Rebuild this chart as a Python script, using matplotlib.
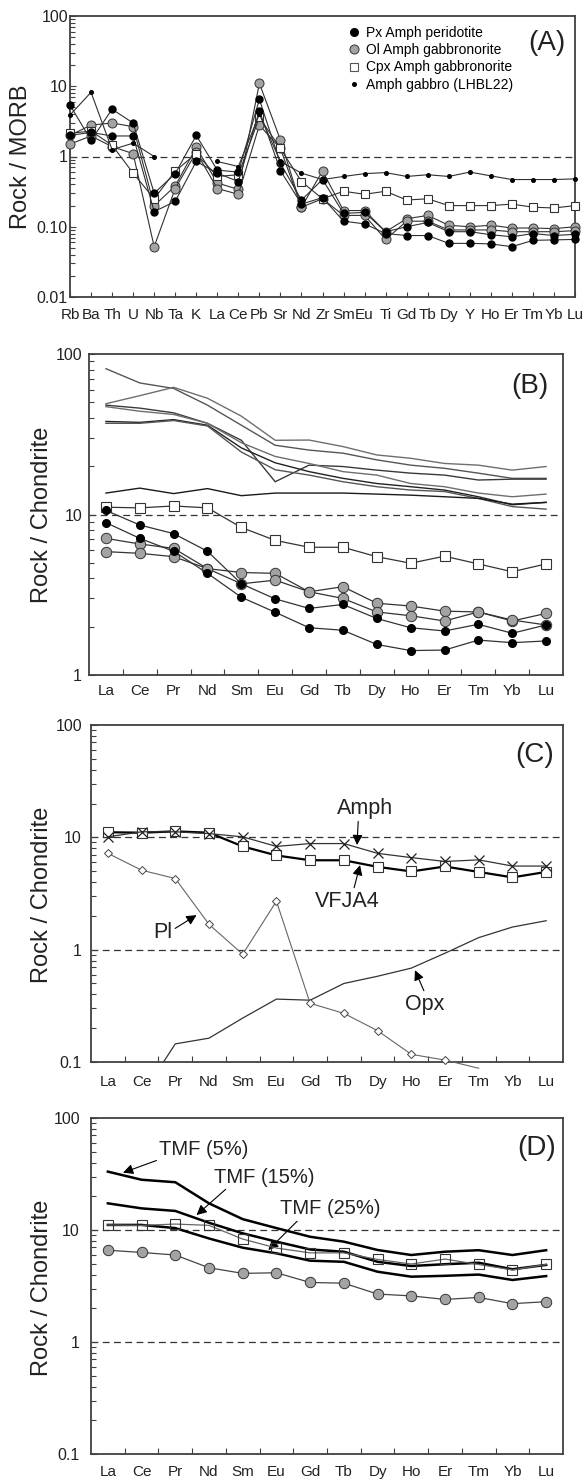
import numpy as np
import matplotlib.pyplot as plt
from matplotlib.lines import Line2D
from matplotlib.ticker import FixedLocator, FixedFormatter, LogLocator, NullFormatter

plt.rcParams['font.family'] = ['Liberation Sans', 'DejaVu Sans']

nan = np.nan

# (A) MORB-normalised multi-element patterns
spider_elems = ['Rb', 'Ba', 'Th', 'U', 'Nb', 'Ta', 'K', 'La', 'Ce', 'Pb', 'Sr', 'Nd', 'Zr',
                'Sm', 'Eu', 'Ti', 'Gd', 'Tb', 'Dy', 'Y', 'Ho', 'Er', 'Tm', 'Yb', 'Lu']
px_a1 = [5.4, 1.7, 4.7, 3.0, 0.30, 0.57, 2.0, 0.64, 0.60, 6.5, 0.80, 0.24, 0.47,
         0.155, 0.16, 0.085, 0.10, 0.115, 0.085, 0.085, 0.077, 0.072, 0.080, 0.075, 0.078]
px_a2 = [2.0, 2.2, 1.96, 1.96, 0.164, 0.23, 0.85, 0.58, 0.44, 4.5, 0.63, 0.21, 0.26,
         0.12, 0.11, 0.080, 0.075, 0.075, 0.058, 0.058, 0.057, 0.052, 0.064, 0.065, 0.066]
ol_a1 = [2.0, 2.8, 3.0, 2.66, 0.20, 0.38, 1.35, 0.42, 0.34, 11.0, 1.72, 0.19, 0.62,
         0.17, 0.17, 0.085, 0.13, 0.145, 0.105, 0.10, 0.105, 0.096, 0.096, 0.094, 0.10]
ol_a2 = [1.5, 1.96, 1.38, 1.1, 0.052, 0.35, 1.15, 0.35, 0.29, 2.8, 1.3, 0.19, 0.25,
         0.145, 0.145, 0.066, 0.12, 0.12, 0.09, 0.09, 0.09, 0.085, 0.085, 0.085, 0.088]
cpx_a = [2.14, 2.3, 1.45, 0.58, 0.25, 0.62, 1.1, 0.52, 0.55, 3.6, 1.3, 0.44, 0.25,
         0.32, 0.29, 0.32, 0.24, 0.25, 0.20, 0.20, 0.20, 0.21, 0.19, 0.185, 0.20]
gab_a = [3.9, 8.2, 1.25, 1.55, 1.0, nan, nan, 0.85, 0.72, 4.0, 0.85, 0.58, 0.47,
         0.52, 0.57, 0.59, 0.52, 0.55, 0.52, 0.60, 0.53, 0.47, 0.47, 0.47, 0.48]

# (B)-(D) chondrite-normalised REE
ree = ['La', 'Ce', 'Pr', 'Nd', 'Sm', 'Eu', 'Gd', 'Tb', 'Dy', 'Ho', 'Er', 'Tm', 'Yb', 'Lu']
host_1 = [81, 66, 61, 48, 36, 27, 25.2, 24.1, 21.9, 20.3, 19.4, 18.1, 16.8, 16.8]
host_2 = [49, 55, 62, 53, 41, 29, 29.1, 26.5, 23.5, 22.4, 20.8, 20.3, 18.9, 19.9]
host_3 = [48, 46, 43, 37, 29, 16, 20.3, 19.9, 18.9, 18.1, 17.6, 16.4, 16.6, 16.6]
host_4 = [47, 44, 42, 37, 28, 23, 20.8, 18.5, 17.6, 15.6, 14.9, 13.6, 12.9, 13.4]
host_5 = [38, 37.5, 39, 36, 26, 21, 18.5, 16.8, 15.6, 14.9, 14.2, 12.9, 11.5, 11.9]
host_6 = [37, 37, 38.5, 35.6, 24.5, 19, 17.6, 16, 14.9, 14.2, 13.9, 12.6, 11.2, 10.8]
host_flat = [13.6, 14.6, 13.5, 14.5, 13.1, 13.6, 13.6, 13.6, 13.4, 13.2, 12.9, 12.6, 11.6, 11.9]
host_lines = [host_1, host_2, host_3, host_4, host_5, host_6, host_flat]
host_colors = ['#555555', '#6e6e6e', '#3a3a3a', '#6e6e6e', '#222222', '#555555', '#1a1a1a']

vfja4 = [11.1, 11.0, 11.3, 11.0, 8.3, 6.9, 6.25, 6.25, 5.46, 4.97, 5.5, 4.92, 4.40, 4.92]
px_b1 = [10.6, 8.6, 7.6, 5.9, 3.7, 2.98, 2.6, 2.75, 2.25, 1.97, 1.88, 2.07, 1.82, 2.05]
px_b2 = [8.9, 7.1, 5.9, 4.3, 3.05, 2.46, 1.97, 1.9, 1.55, 1.42, 1.43, 1.65, 1.59, 1.63]
ol_b1 = [7.1, 6.55, 6.15, 4.6, 4.35, 4.3, 3.3, 3.55, 2.8, 2.69, 2.5, 2.47, 2.17, 2.42]
ol_b2 = [5.87, 5.73, 5.46, 4.6, 3.7, 3.9, 3.3, 3.0, 2.47, 2.34, 2.17, 2.47, 2.2, 2.05]

amph_c = [10.1, 11.2, 11.2, 10.8, 10.1, 8.3, 8.8, 8.8, 7.2, 6.6, 6.1, 6.3, 5.55, 5.55]
pl_c = [7.2, 5.1, 4.3, 1.68, 0.91, 2.7, 0.333, 0.271, 0.19, 0.117, 0.104, 0.088, nan, nan]
opx_c = [nan, 0.05, 0.145, 0.163, 0.246, 0.363, 0.355, 0.50, 0.58, 0.685, 0.93, 1.28, 1.59, 1.81]

ol_d = [6.6, 6.3, 5.98, 4.6, 4.1, 4.15, 3.4, 3.35, 2.68, 2.58, 2.4, 2.5, 2.2, 2.29]
tmf_5 = [33.2, 28.1, 26.7, 17.3, 12.5, 10.4, 8.7, 7.87, 6.63, 5.98, 6.4, 6.6, 5.98, 6.6]
tmf_15 = [17.3, 15.6, 14.8, 11.6, 9.34, 7.87, 6.7, 6.4, 5.2, 4.77, 4.95, 5.1, 4.46, 4.88]
tmf_25 = [11.1, 11.1, 10.4, 8.4, 6.95, 6.19, 5.32, 5.2, 4.24, 3.83, 3.9, 4.0, 3.58, 3.88]

SPINE = '#404040'
INK = '#222222'
DASH = (0, (5.5, 3.5))

W, H = 585, 1480
fig = plt.figure(figsize=(W / 100, H / 100), dpi=100)


def box(left, top, right, bottom):
    return [left / W, 1 - bottom / H, (right - left) / W, (bottom - top) / H]


def log_y(ax, ymin, ymax, labels, pad):
    ax.set_yscale('log')
    ax.set_ylim(ymin, ymax)
    decades = 10.0 ** np.arange(round(np.log10(ymin)), round(np.log10(ymax)) + 1)
    ax.yaxis.set_major_locator(FixedLocator(decades))
    ax.yaxis.set_major_formatter(FixedFormatter(labels))
    ax.yaxis.set_minor_locator(LogLocator(base=10, subs=np.arange(2, 10)))
    ax.yaxis.set_minor_formatter(NullFormatter())
    for s in ax.spines.values():
        s.set_color(SPINE)
        s.set_linewidth(1.3)
    ax.tick_params(axis='y', which='both', direction='in', color=SPINE, width=0.8,
                   labelsize=11.5, labelcolor=INK, pad=pad)
    ax.tick_params(axis='y', which='major', length=4.5)
    ax.tick_params(axis='y', which='minor', length=3.5)


def ree_x(ax, pad):
    x = np.arange(len(ree))
    ax.set_xlim(-0.5, len(ree) - 0.5)
    ax.set_xticks(x)
    ax.set_xticklabels(ree)
    ax.set_xticks(x[:-1] + 0.5, minor=True)
    ax.tick_params(axis='x', which='major', length=0, pad=pad, labelsize=11, labelcolor=INK)
    ax.tick_params(axis='x', which='minor', direction='in', length=4.5, width=0.8, color=SPINE)


def panel_tag(ax, tag, x, y):
    ax.text(x, y, tag, transform=ax.transAxes, ha='center', va='center', fontsize=20, color=INK)


def arrow_note(ax, text, tip, where, rel, size):
    ax.annotate(text, xy=tip, xytext=where, ha='center', va='center', fontsize=size, color=INK,
                arrowprops=dict(arrowstyle='-|>', color='black', lw=0.8, mutation_scale=15,
                                shrinkA=0, shrinkB=0, relpos=rel))


# ---------------- (A) ----------------
axA = fig.add_axes(box(70, 16, 575, 297))
xa = np.arange(len(spider_elems))
log_y(axA, 0.01, 100, ['0.01', '0.10', '1', '10', '100'], 1.5)
axA.set_xlim(0, len(spider_elems) - 1)
axA.set_xticks(xa)
axA.set_xticklabels(spider_elems)
axA.tick_params(axis='x', direction='in', length=3.5, width=0.8, color=SPINE, pad=8,
                labelsize=11, labelcolor=INK)
axA.axhline(1, color='#333333', lw=0.9, ls=DASH, zorder=1)

line_kw = dict(color='#303030', lw=0.8, clip_on=False)
for vals in (ol_a1, ol_a2):
    axA.plot(xa, vals, marker='o', ms=6.5, mfc='#a3a3a3', mec='#333333', mew=0.7, zorder=3, **line_kw)
for vals in (px_a1, px_a2):
    axA.plot(xa, vals, marker='o', ms=5, mfc='black', mec='black', zorder=4, **line_kw)
axA.plot(xa, cpx_a, marker='s', ms=6, mfc='white', mec='#333333', mew=0.8, zorder=3, **line_kw)
axA.plot(xa, gab_a, marker='o', ms=2.6, mfc='black', mec='black', zorder=5, **line_kw)

legend_handles = [
    Line2D([], [], ls='none', marker='o', ms=5.5, mfc='black', mec='black'),
    Line2D([], [], ls='none', marker='o', ms=6.5, mfc='#a3a3a3', mec='#333333', mew=0.7),
    Line2D([], [], ls='none', marker='s', ms=6, mfc='white', mec='#555555', mew=0.8),
    Line2D([], [], ls='none', marker='o', ms=2.6, mfc='black', mec='black'),
]
legend_labels = ['Px Amph peridotite', 'Ol Amph gabbronorite', 'Cpx Amph gabbronorite',
                 'Amph gabbro (LHBL22)']
axA.legend(legend_handles, legend_labels, loc='upper left', bbox_to_anchor=(0.551, 0.966),
           frameon=False, fontsize=10, handlelength=0.8, handletextpad=0.5,
           labelspacing=0.25, borderpad=0, borderaxespad=0)
panel_tag(axA, '(A)', 0.945, 0.904)
fig.text(21 / W, 1 - 157 / H, 'Rock / MORB', rotation=90, ha='center', va='center',
         fontsize=17, color=INK)

xr = np.arange(len(ree))

# ---------------- (B) ----------------
axB = fig.add_axes(box(89, 354, 563, 675))
log_y(axB, 1, 100, ['1', '10', '100'], 5)
ree_x(axB, 6.5)
axB.axhline(10, color='#333333', lw=0.9, ls=DASH, zorder=1)
for vals, col in zip(host_lines, host_colors):
    axB.plot(xr, vals, color=col, lw=1.0, zorder=2)
axB.plot(xr, vfja4, color='#333333', lw=0.9, marker='s', ms=7, mfc='white', mec='#333333',
         mew=0.8, zorder=3)
for vals in (ol_b1, ol_b2):
    axB.plot(xr, vals, color='#333333', lw=0.9, marker='o', ms=7.5, mfc='#a3a3a3',
             mec='#333333', mew=0.7, zorder=3)
for vals in (px_b1, px_b2):
    axB.plot(xr, vals, color='#333333', lw=0.9, marker='o', ms=5.5, mfc='black',
             mec='black', zorder=4)
panel_tag(axB, '(B)', 0.930, 0.900)
fig.text(42 / W, 1 - 515 / H, 'Rock / Chondrite', rotation=90, ha='center', va='center',
         fontsize=17, color=INK)

# ---------------- (C) ----------------
axC = fig.add_axes(box(91, 725, 563, 1062))
log_y(axC, 0.1, 100, ['0.1', '1', '10', '100'], 6.5)
ree_x(axC, 9.5)
for level in (10, 1):
    axC.axhline(level, color='#333333', lw=0.9, ls=DASH, zorder=1)
axC.plot(xr, opx_c, color='#333333', lw=0.9, zorder=2)
axC.plot(xr, pl_c, color='#666666', lw=0.8, marker='D', ms=4.5, mfc='white', mec='#444444',
         mew=0.7, markevery=list(range(11)), clip_on=False, zorder=3)
axC.plot(xr, vfja4, color='black', lw=1.6, marker='s', ms=7, mfc='white', mec='#333333',
         mew=0.8, zorder=3)
axC.plot(xr, amph_c, color='#333333', lw=0.9, marker='x', ms=7, mec='#222222', mew=0.9,
         zorder=4)
arrow_note(axC, 'Amph', (7.39, 8.54), (7.63, 18.2), (0.38, 0.0), 15.5)
arrow_note(axC, 'VFJA4', (7.48, 5.66), (7.09, 2.71), (0.6, 1.0), 15.5)
arrow_note(axC, 'Pl', (2.63, 2.03), (1.63, 1.43), (1.0, 0.6), 15.5)
arrow_note(axC, 'Opx', (9.11, 0.657), (9.41, 0.328), (0.5, 1.0), 15.5)
panel_tag(axC, '(C)', 0.939, 0.911)
fig.text(42 / W, 1 - 895 / H, 'Rock / Chondrite', rotation=90, ha='center', va='center',
         fontsize=17, color=INK)

# ---------------- (D) ----------------
axD = fig.add_axes(box(91, 1118, 563, 1454))
log_y(axD, 0.1, 100, ['0.1', '1', '10', '100'], 8)
ree_x(axD, 8)
for level in (10, 1):
    axD.axhline(level, color='#333333', lw=0.9, ls=DASH, zorder=1)
for vals in (tmf_5, tmf_15, tmf_25):
    axD.plot(xr, vals, color='black', lw=1.8, zorder=3)
axD.plot(xr, vfja4, color='#666666', lw=0.9, marker='s', ms=7, mfc='none', mec='#333333',
         mew=0.8, zorder=4)
axD.plot(xr, ol_d, color='#444444', lw=0.9, marker='o', ms=7.5, mfc='#a3a3a3', mec='#333333',
         mew=0.7, zorder=4)
arrow_note(axD, 'TMF (5%)', (0.45, 32.5), (2.85, 51.8), (0.0, 0.0), 14.5)
arrow_note(axD, 'TMF (15%)', (2.63, 13.6), (4.63, 29.7), (0.15, 0.0), 14.5)
arrow_note(axD, 'TMF (25%)', (4.76, 6.63), (6.59, 15.4), (0.2, 0.0), 14.5)
panel_tag(axD, '(D)', 0.945, 0.911)
fig.text(42 / W, 1 - 1288 / H, 'Rock / Chondrite', rotation=90, ha='center', va='center',
         fontsize=17, color=INK)

fig.savefig('out.png', dpi=100, facecolor='white')
